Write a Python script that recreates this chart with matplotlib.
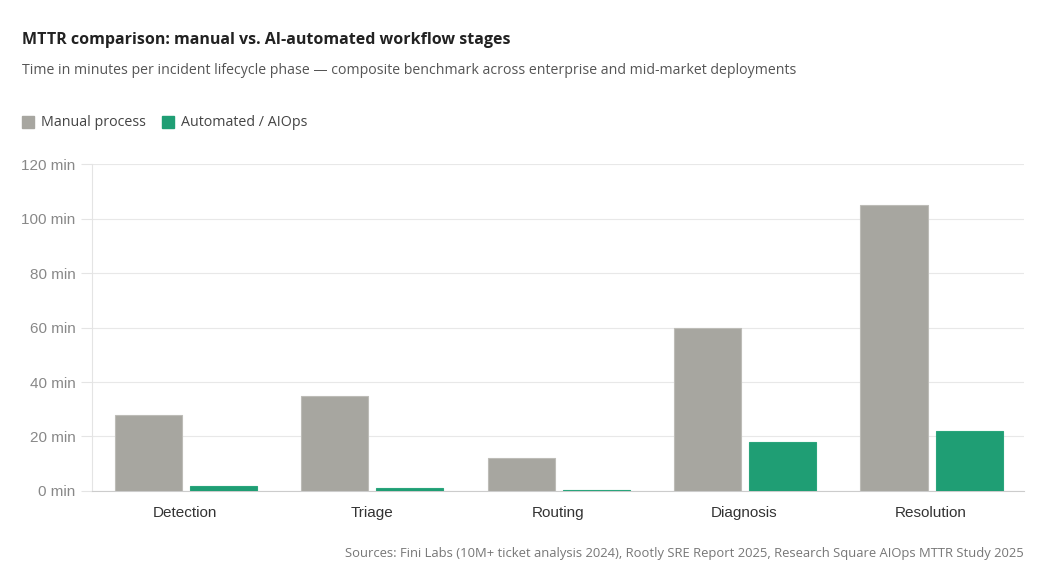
import matplotlib.pyplot as plt
import numpy as np
from matplotlib.patches import Rectangle

stages = ["Detection", "Triage", "Routing", "Diagnosis", "Resolution"]
manual = [28, 35, 12, 60, 105]
automated = [2, 1, 0.5, 18, 22]
y_ticks = [0, 20, 40, 60, 80, 100, 120]

manual_color = "#a7a6a0"
auto_color = "#1f9e74"

plt.rcParams['font.family'] = ['Liberation Sans', 'DejaVu Sans']

fig = plt.figure(figsize=(10.45, 5.88), dpi=100)
ax = fig.add_axes([0.088, 0.165, 0.892, 0.556])

x = np.arange(len(stages))
width = 0.36
ax.bar(x - 0.198, manual, width, color=manual_color, edgecolor="#bdbcb7", linewidth=0.8, zorder=3)
ax.bar(x + 0.205, automated, width, color=auto_color, edgecolor="#2aa57c", linewidth=0.8, zorder=3)

ax.set_xlim(-0.5, len(stages) - 0.5)
ax.set_ylim(0, 120)
ax.set_yticks(y_ticks)
ax.set_yticklabels([f"{v} min" for v in y_ticks])
ax.set_xticks(x)
ax.set_xticklabels(stages)

ax.grid(axis="y", color="#e8e8e8", linewidth=0.8, zorder=0)
for side in ["top", "right"]:
    ax.spines[side].set_visible(False)
ax.spines["left"].set_color("#e4e4e4")
ax.spines["bottom"].set_color("#cccccc")
ax.tick_params(axis="y", colors="#e4e4e4", labelcolor="#888888", labelsize=11, length=8, pad=4)
ax.tick_params(axis="x", length=0, labelcolor="#333333", labelsize=11, pad=11)

tf = ['Open Sans', 'DejaVu Sans']
fig.text(22 / 1045, 1 - 40 / 588, "MTTR comparison: manual vs. AI-automated workflow stages",
         fontsize=11.5, fontweight="bold", color="#222222", va="center", family=tf)
fig.text(22 / 1045, 1 - 71 / 588,
         "Time in minutes per incident lifecycle phase \u2014 composite benchmark across enterprise and mid-market deployments",
         fontsize=10.2, color="#555555", va="center", family=tf)

# legend
for lx, tx, col, label in [(22, 41, manual_color, "Manual process"), (162, 181, auto_color, "Automated / AIOps")]:
    fig.patches.append(Rectangle((lx / 1045, 1 - 128 / 588), 12 / 1045, 12 / 588,
                                 transform=fig.transFigure, color=col, figure=fig))
    fig.text(tx / 1045, 1 - 122 / 588, label, fontsize=10.3, color="#444444", va="center", family=tf)

fig.text(1024 / 1045, 1 - 553 / 588,
         "Sources: Fini Labs (10M+ ticket analysis 2024), Rootly SRE Report 2025, Research Square AIOps MTTR Study 2025",
         fontsize=9.4, color="#777777", ha="right", va="center", family=tf)

fig.savefig("out.png", dpi=100)
